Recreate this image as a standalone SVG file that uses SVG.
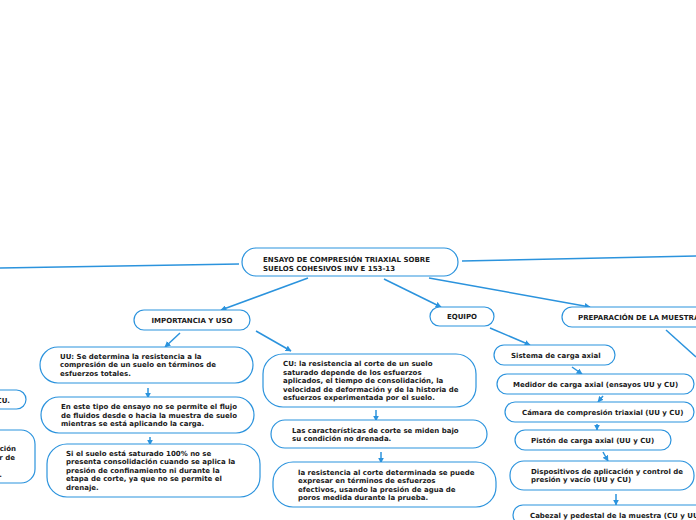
<svg xmlns="http://www.w3.org/2000/svg" width="696" height="520" viewBox="0 0 696 520">
<style>
.n{fill:#fff;stroke:#2b93dd;stroke-width:1.2}
.t{font-family:"DejaVu Sans",Verdana,sans-serif;font-weight:bold;font-size:7px;fill:#1a1a1a}
.c{fill:none;stroke:#2b93dd;stroke-width:1.5}
</style>
<defs>
<marker id="a" viewBox="0 0 10 10" refX="9" refY="5" markerWidth="6" markerHeight="6" markerUnits="userSpaceOnUse" orient="auto"><path d="M0,0L10,5L0,10z" fill="#2b93dd"/></marker>
</defs>
<rect width="696" height="520" fill="#fff"/>
<g id="connectors">
<path class="c" d="M239,264L0,268"/>
<path class="c" d="M462,261L696,256"/>
<path class="c" d="M308,278L221,310" marker-end="url(#a)"/>
<path class="c" d="M384,279L441,307" marker-end="url(#a)"/>
<path class="c" d="M429,278L590,307" marker-end="url(#a)"/>
<path class="c" d="M180,333L165,347" marker-end="url(#a)"/>
<path class="c" d="M256,331L291,351" marker-end="url(#a)"/>
<path class="c" d="M148,388L148,398" marker-end="url(#a)"/>
<path class="c" d="M150,437L150,445" marker-end="url(#a)"/>
<path class="c" d="M376,410L376,421" marker-end="url(#a)"/>
<path class="c" d="M381,452L381,463" marker-end="url(#a)"/>
<path class="c" d="M490,328L530,345" marker-end="url(#a)"/>
<path class="c" d="M572,367L582,374" marker-end="url(#a)"/>
<path class="c" d="M603,396L598,402" marker-end="url(#a)"/>
<path class="c" d="M597,424L597,430" marker-end="url(#a)"/>
<path class="c" d="M603,452L608,461" marker-end="url(#a)"/>
<path class="c" d="M616,494L616,505" marker-end="url(#a)"/>
<path class="c" d="M666,330L696,357"/>
</g>
<g id="root">
<rect class="n" x="242" y="248" width="216" height="28" rx="14"/>
<text class="t" x="263" y="262">ENSAYO DE COMPRESIÓN TRIAXIAL SOBRE</text>
<text class="t" x="263" y="270.5">SUELOS COHESIVOS INV E 153-13</text>
</g>
<g id="importancia">
<rect class="n" x="134" y="310" width="116" height="20" rx="10"/>
<text class="t" x="192" y="322.5" text-anchor="middle">IMPORTANCIA Y USO</text>
</g>
<g id="equipo">
<rect class="n" x="430" y="307" width="64" height="19" rx="9.5"/>
<text class="t" x="462" y="319" text-anchor="middle">EQUIPO</text>
</g>
<g id="preparacion">
<rect class="n" x="562" y="307" width="150" height="20" rx="10"/>
<text class="t" x="578" y="320">PREPARACIÓN DE LA MUESTRA</text>
</g>
<g id="uu">
<rect class="n" x="40" y="347" width="213" height="36" rx="18"/>
<text class="t" x="60" y="358.5">UU: Se determina la resistencia a la</text>
<text class="t" x="60" y="367">compresión de un suelo en términos de</text>
<text class="t" x="60" y="375.5">esfuerzos totales.</text>
</g>
<g id="flujo">
<rect class="n" x="41" y="397" width="213" height="36" rx="18"/>
<text class="t" x="61" y="409">En este tipo de ensayo no se permite el flujo</text>
<text class="t" x="61" y="417.5">de fluidos desde o hacia la muestra de suelo</text>
<text class="t" x="61" y="426">mientras se está aplicando la carga.</text>
</g>
<g id="saturado">
<rect class="n" x="47" y="444" width="213" height="53" rx="20"/>
<text class="t" x="66" y="455.5">Si el suelo está saturado 100% no se</text>
<text class="t" x="66" y="464">presenta consolidación cuando se aplica la</text>
<text class="t" x="66" y="472.5">presión de confinamiento ni durante la</text>
<text class="t" x="66" y="481">etapa de corte, ya que no se permite el</text>
<text class="t" x="66" y="489.5">drenaje.</text>
</g>
<g id="cu">
<rect class="n" x="263" y="354" width="213" height="53" rx="20"/>
<text class="t" x="283" y="366">CU: la resistencia al corte de un suelo</text>
<text class="t" x="283" y="374.5">saturado depende de los esfuerzos</text>
<text class="t" x="283" y="383">aplicados, el tiempo de consolidación, la</text>
<text class="t" x="283" y="391.5">velocidad de deformación y de la historia de</text>
<text class="t" x="283" y="400">esfuerzos experimentada por el suelo.</text>
</g>
<g id="caracteristicas">
<rect class="n" x="271" y="420" width="216" height="28" rx="14"/>
<text class="t" x="292" y="432.5">Las características de corte se miden bajo</text>
<text class="t" x="292" y="441">su condición no drenada.</text>
</g>
<g id="efectivos">
<rect class="n" x="273" y="462" width="223" height="45" rx="20"/>
<text class="t" x="298" y="474.5">la resistencia al corte determinada se puede</text>
<text class="t" x="298" y="483">expresar en términos de esfuerzos</text>
<text class="t" x="298" y="491.5">efectivos, usando la presión de agua de</text>
<text class="t" x="298" y="500">poros medida durante la prueba.</text>
</g>
<g id="sistema">
<rect class="n" x="494" y="345" width="121" height="20" rx="10"/>
<text class="t" x="511" y="357.5">Sistema de carga axial</text>
</g>
<g id="medidor">
<rect class="n" x="497" y="374" width="197" height="20" rx="10"/>
<text class="t" x="513" y="386.5">Medidor de carga axial (ensayos UU y CU)</text>
</g>
<g id="camara">
<rect class="n" x="505" y="402" width="189" height="20" rx="10"/>
<text class="t" x="522" y="414.5">Cámara de compresión triaxial (UU y CU)</text>
</g>
<g id="piston">
<rect class="n" x="515" y="430" width="156" height="20" rx="10"/>
<text class="t" x="531" y="442.5">Pistón de carga axial (UU y CU)</text>
</g>
<g id="dispositivos">
<rect class="n" x="510" y="461" width="184" height="29" rx="14"/>
<text class="t" x="531" y="473.5">Dispositivos de aplicación y control de</text>
<text class="t" x="531" y="482">presión y vacío (UU y CU)</text>
</g>
<g id="cabezal">
<rect class="n" x="513" y="505" width="200" height="20" rx="10"/>
<text class="t" x="530" y="518">Cabezal y pedestal de la muestra (CU y UU)</text>
</g>
<g id="left-cu">
<rect class="n" x="-60" y="390" width="86" height="19" rx="9.5"/>
<text class="t" x="10" y="402.5" text-anchor="end">CU.</text>
</g>
<g id="left-node">
<rect class="n" x="-80" y="430" width="115" height="53" rx="14"/>
<text class="t" x="16" y="451" text-anchor="end">ción</text>
<text class="t" x="15" y="459.5" text-anchor="end">r de</text>
<text class="t" x="2" y="476.5" text-anchor="end">.</text>
</g>
</svg>
